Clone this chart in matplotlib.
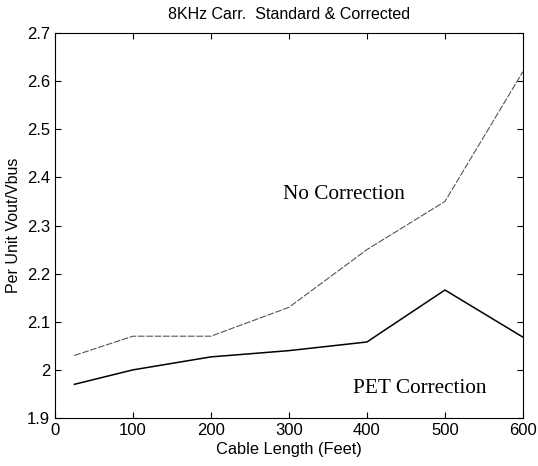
import matplotlib.pyplot as plt

cable_length = [25, 100, 200, 300, 400, 500, 600]
no_correction = [2.03, 2.07, 2.07, 2.13, 2.25, 2.35, 2.62]
pet_correction = [1.97, 2.00, 2.027, 2.04, 2.058, 2.166, 2.068]

plt.rcParams['font.family'] = ['Liberation Sans', 'DejaVu Sans']

fig = plt.figure(figsize=(5.38, 4.66), dpi=100)
ax = fig.add_axes([0.102, 0.103, 0.87, 0.826])

ax.plot(cable_length, no_correction, color='#555555', linewidth=0.8, linestyle=(0, (6, 1.5)))
ax.plot(cable_length, pet_correction, color='black', linewidth=1.1)

ax.text(292, 2.364, 'No Correction', family='Liberation Serif', fontsize=15.3, va='center')
ax.text(382, 1.962, 'PET Correction', family='Liberation Serif', fontsize=15.3, va='center')

ax.set_xlim(0, 600)
ax.set_ylim(1.9, 2.7)
ax.set_xticks(range(0, 601, 100))
ax.set_yticks([1.9, 2.0, 2.1, 2.2, 2.3, 2.4, 2.5, 2.6, 2.7])
ax.set_yticklabels(['1.9', '2', '2.1', '2.2', '2.3', '2.4', '2.5', '2.6', '2.7'])
ax.tick_params(direction='in', top=True, right=True, labelsize=12, length=4)
ax.set_title('8KHz Carr.  Standard & Corrected', fontsize=11.5, pad=10)
ax.set_xlabel('Cable Length (Feet)', fontsize=11.8, labelpad=3)
ax.set_ylabel('Per Unit Vout/Vbus', fontsize=11.5)

fig.savefig('out.png', dpi=100)
